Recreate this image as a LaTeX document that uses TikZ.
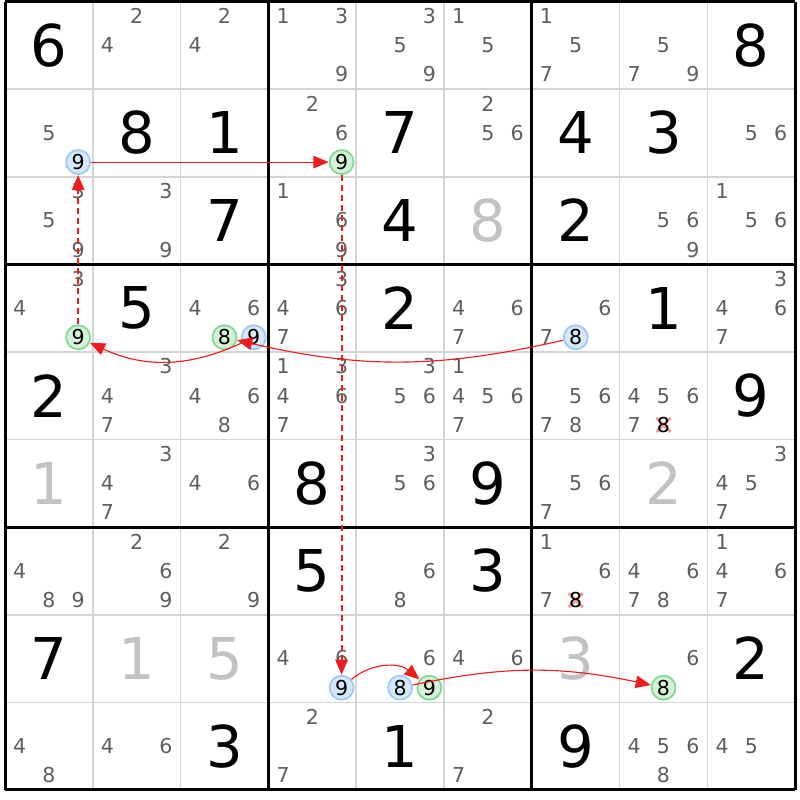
\documentclass[tikz,border=0pt]{standalone}
\usepackage{fontspec}
\setmainfont{DejaVu Sans}
\usetikzlibrary{arrows.meta}

\definecolor{candgray}{HTML}{5E5E5E}
\definecolor{solvedgray}{HTML}{C2C2C2}
\definecolor{thingrid}{HTML}{D4D4D4}
\definecolor{onfill}{HTML}{D5E8FA}
\definecolor{ondraw}{HTML}{9ECAF4}
\definecolor{offfill}{HTML}{D5F2D7}
\definecolor{offdraw}{HTML}{82D993}
\definecolor{linkred}{HTML}{EE1C1C}
\definecolor{elimred}{HTML}{F29A9A}

\tikzset{
	given/.style={font=\fontsize{41}{41}\selectfont,text=black,inner sep=0pt},
	solved/.style={given,text=solvedgray},
	cand/.style={font=\fontsize{14.6}{14.6}\selectfont,text=candgray,inner sep=0pt},
	oncand/.style={cand,text=black,circle,draw=ondraw,fill=onfill,line width=0.45mm,minimum size=6mm},
	offcand/.style={oncand,draw=offdraw,fill=offfill},
	link/.style={draw=linkred,line width=0.28mm,-{Triangle[length=3.8mm,width=3.1mm]}},
	weaklink/.style={link,line width=0.5mm,dash pattern=on 1.5mm off 1mm},
	elim/.style={draw=elimred,line width=0.7mm}
}

% centre of candidate #3 in row #1, column #2
\newcommand{\candpos}[3]{%
	\pgfmathsetmacro{\candx}{5+(#2-1)*87.8+(mod(#3-1,3)+0.5)*29.27}%
	\pgfmathsetmacro{\candy}{1.5+(#1-1)*87.6+(int((#3-1)/3)+0.5)*29.2}}
% circled candidate: name, style, row, column, digit
\newcommand{\hilite}[5]{\candpos{#3}{#4}{#5}\node[#2] (#1) at (\candx,\candy) {#5};}

\begin{document}
\begin{tikzpicture}[x=0.25mm,y=-0.25mm]
	\useasboundingbox[fill=white] (0,0) rectangle (800,800);

	% grid
	\foreach \i in {1,2,4,5,7,8} {
		\draw[thingrid,line width=0.4mm] (5+\i*87.8,1.5) -- (5+\i*87.8,790);
		\draw[thingrid,line width=0.4mm] (5,1.5+\i*87.6) -- (795,1.5+\i*87.6);
	}
	\foreach \i in {0,3,6,9} {
		\draw[black,line width=0.75mm] (5+\i*87.8,1.5) -- (5+\i*87.8,790);
		\draw[black,line width=0.75mm] (5,1.5+\i*87.6) -- (795,1.5+\i*87.6);
	}

	% givens and solved cells
	\foreach \r/\c/\d in {1/1/6,1/9/8,2/2/8,2/3/1,2/5/7,2/7/4,2/8/3,3/3/7,3/5/4,3/7/2,
			4/2/5,4/5/2,4/8/1,5/1/2,5/9/9,6/4/8,6/6/9,7/4/5,7/6/3,8/1/7,8/9/2,
			9/3/3,9/5/1,9/7/9}
		\node[given] (g\r\c) at (5+\c*87.8-43.9,1.5+\r*87.6-43.8) {\d};
	\foreach \r/\c/\d in {3/6/8,6/1/1,6/8/2,8/2/1,8/3/5,8/7/3}
		\node[solved] (s\r\c) at (5+\c*87.8-43.9,1.5+\r*87.6-43.8) {\d};

	% pencil marks
	\foreach \r/\c/\ds in {1/2/{2,4},1/3/{2,4},1/4/{1,3,9},1/5/{3,5,9},1/6/{1,5},1/7/{1,5,7},1/8/{5,7,9},
			2/1/{5},2/4/{2,6},2/6/{2,5,6},2/9/{5,6},
			3/1/{3,5,9},3/2/{3,9},3/4/{1,6,9},3/8/{5,6,9},3/9/{1,5,6},
			4/1/{3,4},4/3/{4,6},4/4/{3,4,6,7},4/6/{4,6,7},4/7/{6,7},4/9/{3,4,6,7},
			5/2/{3,4,7},5/3/{4,6,8},5/4/{1,3,4,6,7},5/5/{3,5,6},5/6/{1,4,5,6,7},5/7/{5,6,7,8},5/8/{4,5,6,7},
			6/2/{3,4,7},6/3/{4,6},6/5/{3,5,6},6/7/{5,6,7},6/9/{3,4,5,7},
			7/1/{4,8,9},7/2/{2,6,9},7/3/{2,9},7/5/{6,8},7/7/{1,6,7},7/8/{4,6,7,8},7/9/{1,4,6,7},
			8/4/{4,6},8/5/{6},8/6/{4,6},8/8/{6},
			9/1/{4,8},9/2/{4,6},9/4/{2,7},9/6/{2,7},9/8/{4,5,6,8},9/9/{4,5}}
		\foreach \d in \ds {
			\candpos{\r}{\c}{\d}
			\node[cand] (c\r\c\d) at (\candx,\candy) {\d};
		}

	% eliminated candidates
	\foreach \r/\c in {5/8,7/7} {
		\candpos{\r}{\c}{8}
		\draw[elim] (\candx-7,\candy-7) -- (\candx+7,\candy+7);
		\draw[elim] (\candx-7,\candy+7) -- (\candx+7,\candy-7);
		\node[cand,text=black] (x\r\c) at (\candx,\candy) {8};
	}

	% chain
	\hilite{on21}{oncand}{2}{1}{9}
	\hilite{off24}{offcand}{2}{4}{9}
	\hilite{off41}{offcand}{4}{1}{9}
	\hilite{off43}{offcand}{4}{3}{8}
	\hilite{on43}{oncand}{4}{3}{9}
	\hilite{on47}{oncand}{4}{7}{8}
	\hilite{on84}{oncand}{8}{4}{9}
	\hilite{on85}{oncand}{8}{5}{8}
	\hilite{off85}{offcand}{8}{5}{9}
	\hilite{off88}{offcand}{8}{8}{8}

	\draw[link] (on47) to[bend left=13] (off43);
	\draw[link] (on43) to[bend left=25] (off41);
	\draw[weaklink] (off41) -- (on21);
	\draw[link] (on21) -- (off24);
	\draw[weaklink] (off24) -- (on84);
	\draw[link] (on84) to[bend left=40] (off85);
	\draw[link] (on85) to[bend left=12] (off88);
\end{tikzpicture}
\end{document}
